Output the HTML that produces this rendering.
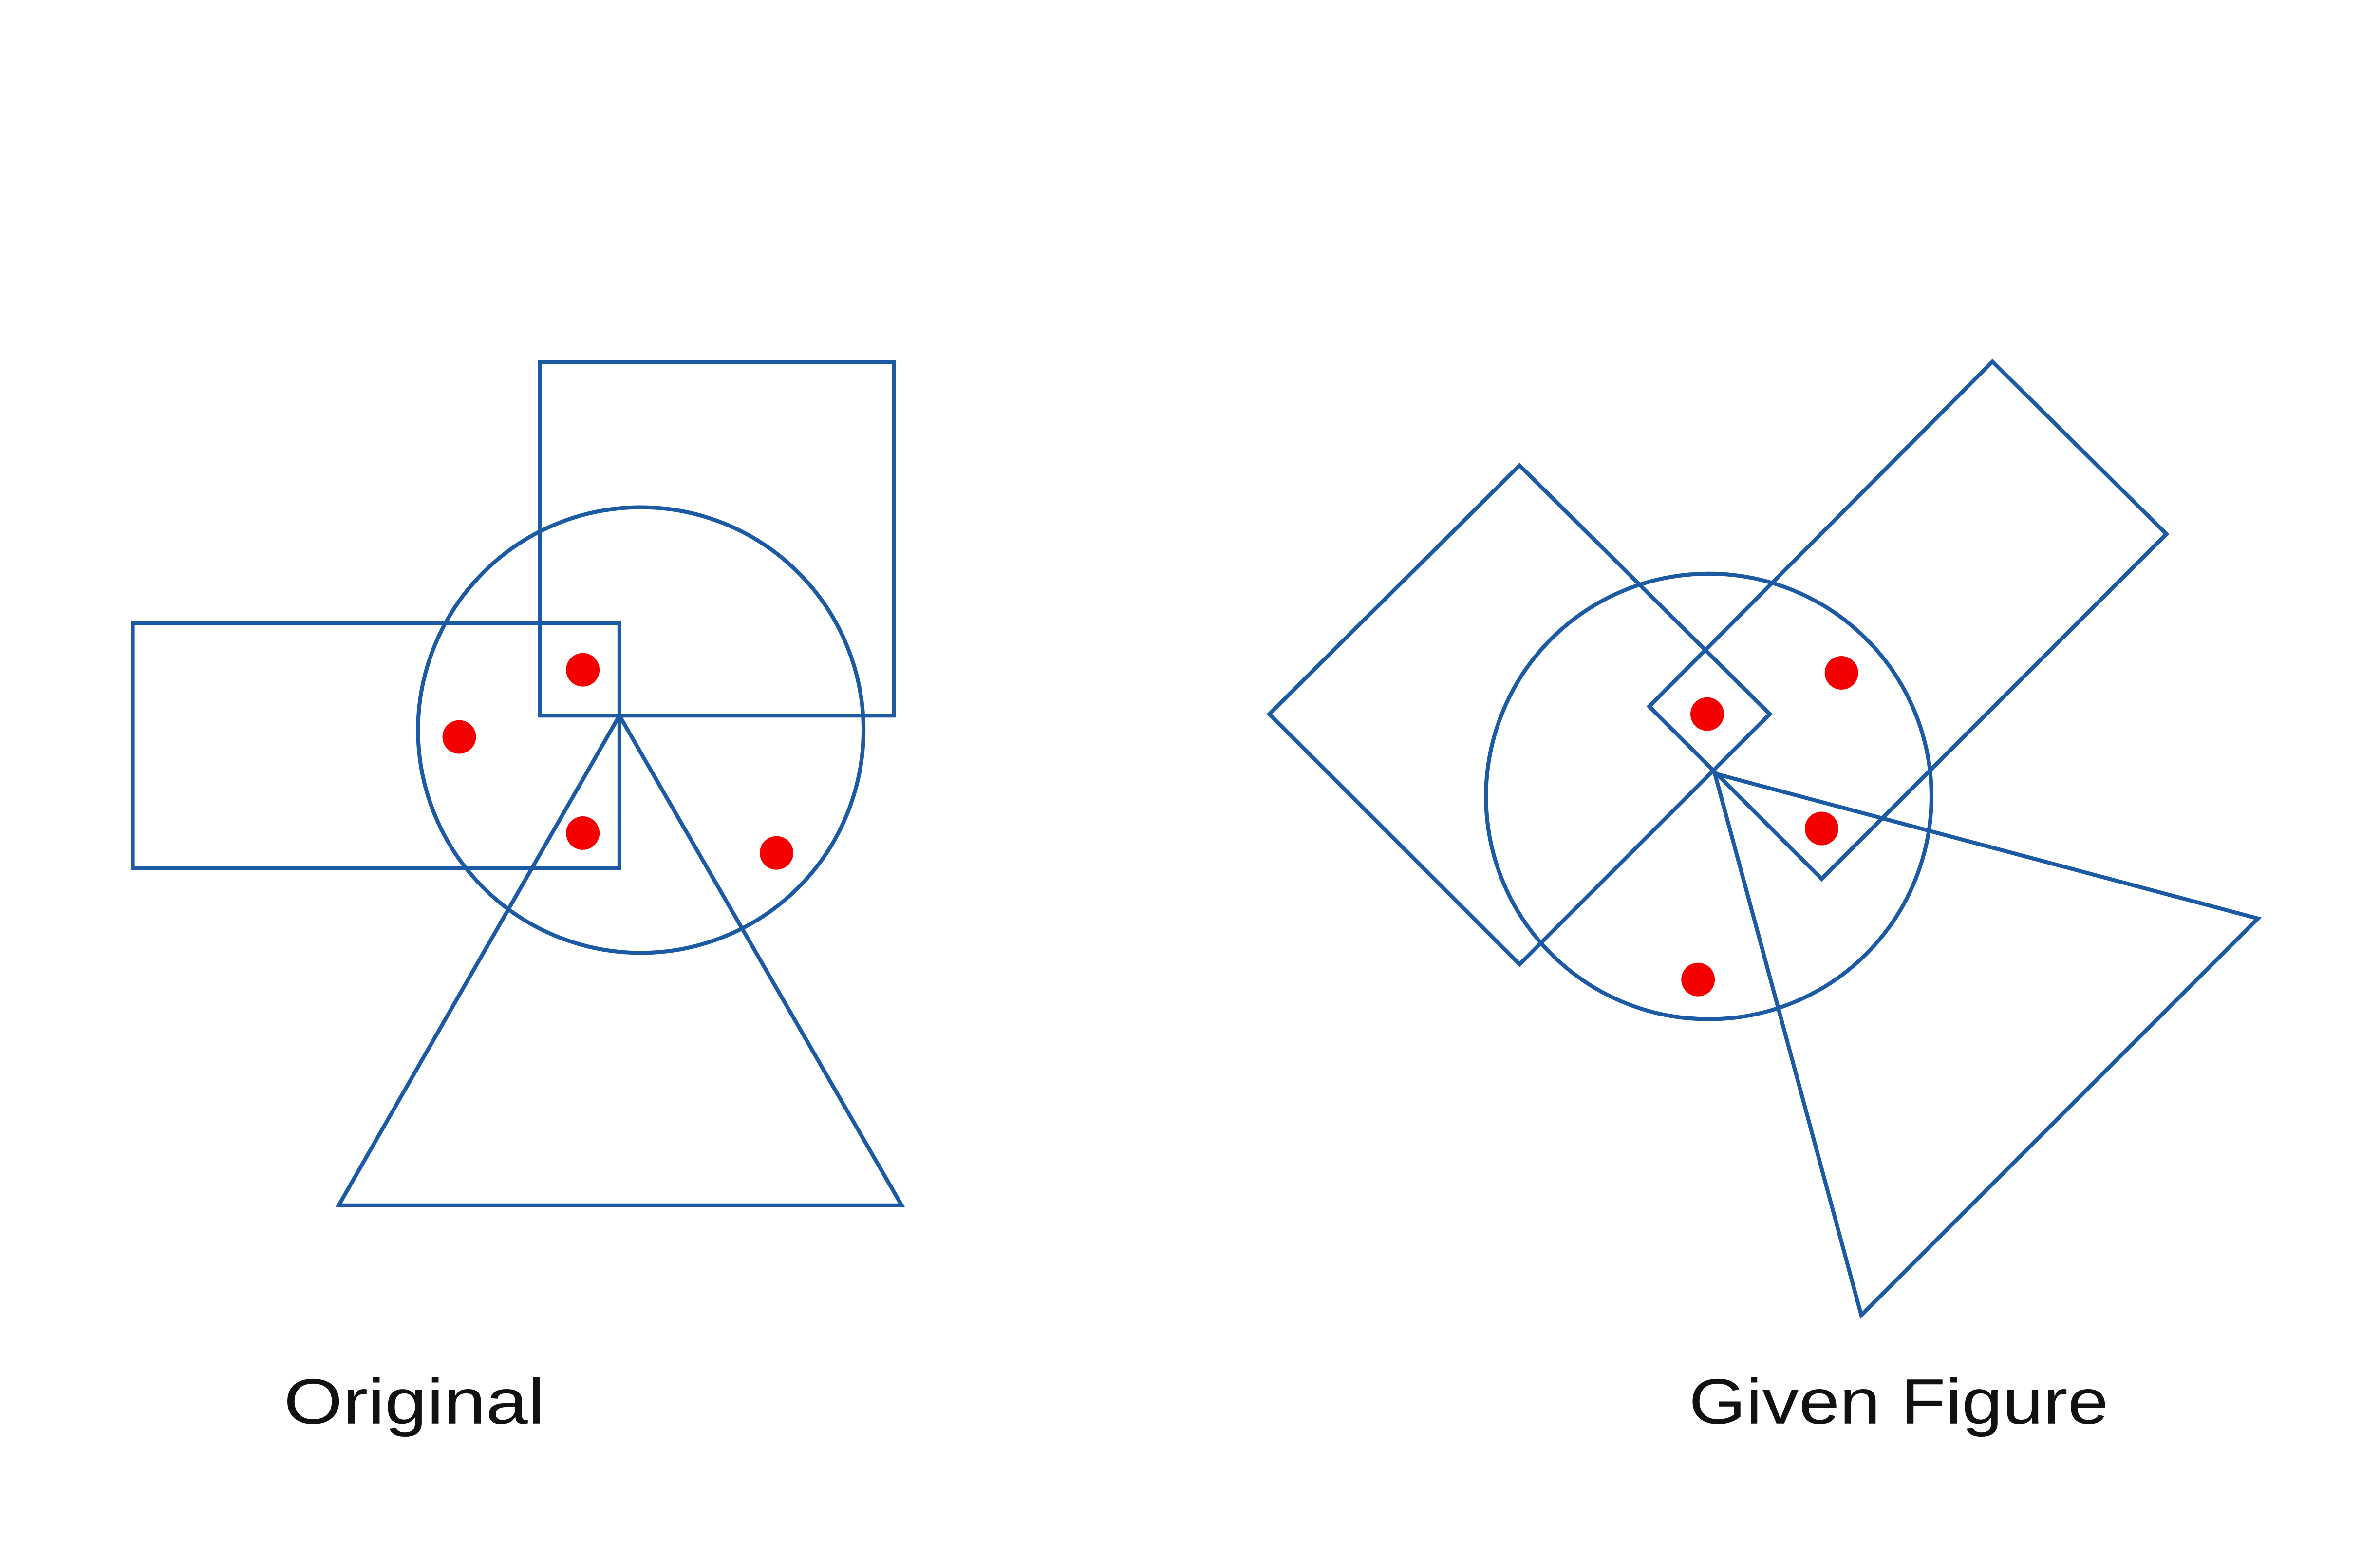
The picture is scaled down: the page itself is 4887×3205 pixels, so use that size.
<!DOCTYPE html>
<html>
<head>
<meta charset="utf-8">
<style>
html,body{margin:0;padding:0;background:#fff;}
svg{display:block;}
</style>
</head>
<body>
<svg width="4887" height="3205" viewBox="0 0 1560 1023.1" preserveAspectRatio="none" xmlns="http://www.w3.org/2000/svg">
<rect x="0" y="0" width="1560" height="1024" fill="#fff"/>
<g fill="none" stroke="#1c5aa3" stroke-width="2.6" stroke-linejoin="miter">
  <!-- Original -->
  <rect x="354" y="237.5" width="232" height="231.5"/>
  <rect x="87" y="408.5" width="319" height="160.5"/>
  <circle cx="420" cy="478.5" r="146"/>
  <polygon points="406,469 222,790 591,790"/>
  <!-- Given -->
  <circle cx="1120" cy="522" r="146"/>
  <polygon points="996,305 1160,468 996,632 832,468"/>
  <polygon points="1306,237 1420,350 1194,576 1081,463"/>
  <polygon points="1124,507 1480,602 1220,862"/>
</g>
<g fill="#f40000">
  <circle cx="382" cy="439" r="11"/>
  <circle cx="301" cy="483" r="11"/>
  <circle cx="382" cy="546" r="11"/>
  <circle cx="509" cy="559" r="11"/>
  <circle cx="1119" cy="468" r="11"/>
  <circle cx="1207" cy="441" r="11"/>
  <circle cx="1194" cy="543" r="11"/>
  <circle cx="1113" cy="642" r="11"/>
</g>
<g font-family="Liberation Sans, sans-serif" font-size="42" fill="#111">
  <text x="186" y="933" textLength="171" lengthAdjust="spacingAndGlyphs">Original</text>
  <text x="1107" y="933" textLength="275" lengthAdjust="spacingAndGlyphs">Given Figure</text>
</g>
</svg>
</body>
</html>
